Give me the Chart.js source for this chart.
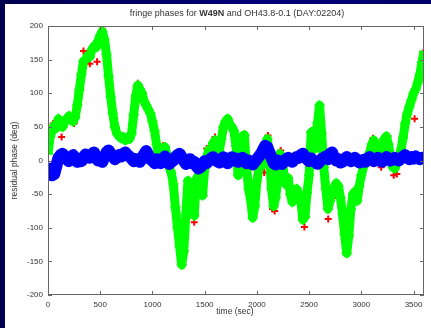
<!DOCTYPE html>
<html>
<head>
    <title>Fringe phases</title>
    <script src="https://cdn.jsdelivr.net/npm/chart.js"></script>
    <style>
        html, body { margin: 0; padding: 0; }
        body {
            width: 431px; height: 328px; overflow: hidden;
            background: linear-gradient(90deg, #00004e 0%, #000078 60%, #00006a 100%);
        }
        #panel { position: absolute; left: 5px; top: 4px; width: 426px; height: 324px; background: #fff; }
    </style>
</head>
<body>
<div id="panel"><canvas id="phaseChart" width="426" height="324"></canvas></div>
<script>
    // residual phases sampled every 20 s from 0 to 3600 s
    var sampleStep = 20;

    var greenPhase = [10, 35, 45, 52, 48, 62, 55, 50, 58, 62, 66, 60, 58, 64, 82, 105, 128, 148, 150, 156,
        154, 165, 170, 168, 178, 186, 192, 180, 158, 125, 95, 70, 50, 40, 36, 33, 35, 30, 34, 32,
        40, 68, 96, 112, 106, 100, 88, 82, 76, 70, 58, 44, 24, 6, 2, 16, 20, 8, -10, -18,
        -35, -70, -100, -128, -155, -135, -80, -30, -35, -65, -82, -28, -22, -38, -52, -12, 5, 16, 8, 26,
        30, 4, 14, 32, 50, 58, 62, 54, 50, 44, 22, -22, 8, 36, 38, -8, -42, -58, -85, -68,
        -30, -12, -8, -6, 14, 32, 8, -42, -68, -55, -28, 10, 4, -22, -36, -26, -50, -62, -54, -42,
        -50, -58, -88, -84, -48, -22, 42, 44, 18, 55, 82, 40, -10, -42, -72, -60, -45, -40, -34, -38,
        -55, -80, -110, -138, -112, -72, -50, -46, -60, -38, -22, -10, -2, 5, 12, 24, 30, 18, 4, 0,
        20, 32, 36, 24, 4, -10, -12, -4, 6, 16, 34, 55, 70, 80, 90, 100, 106, 116, 128, 146, 162];

    var bluePhase = [-5, -15, -22, -20, -8, 4, 8, 10, 4, 2, -1, 4, 8, 3, -2, 2, -1, 5, 9, 7,
        4, 9, 12, 5, 0, 3, -2, 5, 12, 15, 10, 7, 2, 5, 8, 6, 10, 12, 8, 6,
        3, -1, 2, 0, -2, 4, 9, 14, 8, 2, 0, -4, 2, -1, -4, 2, 6, 0, -5, -2,
        0, 5, 8, 10, 5, 0, -5, -3, 2, -4, -2, -8, -12, -10, -6, -1, -4, 0, 3, 5,
        1, -1, -3, 2, 5, -2, -4, 2, 5, 0, 3, -2, 0, 4, 2, -4, 0, -3, -6, -2,
        2, 6, 10, 16, 22, 20, 12, 4, -4, -6, 0, -3, -5, -2, 2, 4, 1, -2, 3, 5,
        4, 8, 10, 6, 2, -1, 3, 0, -2, -5, -2, 2, 4, 6, 2, 10, 12, 4, 0, 2,
        -3, -2, 2, 5, 3, -1, 2, 4, 0, -3, -2, 1, -2, 3, 5, 2, -1, 2, 4, 1,
        -2, 2, 5, 3, 0, 2, 4, 1, 0, 3, 6, 8, 4, 2, 5, 3, 6, 4, 2, 4, 1];

    // second baseline, mostly hidden under the green one
    var redTime = [0, 50, 80, 130, 200, 250, 340, 400, 470, 520, 570, 620, 650, 860, 910, 940, 990, 1100,
        1220, 1260, 1400, 1520, 1600, 1700, 1720, 1910, 2070, 2106, 2150, 2170, 2228, 2365, 2455,
        2683, 2746, 3111, 3190, 3254, 3310, 3340, 3430, 3510, 3590];
    var redPhase = [15, 55, 58, 35, 68, 55, 163, 144, 147, 196, 150, 62, 42, 115, 96, 85, 62, 22,
        -75, -125, -92, 18, 35, 60, 62, -40, -18, 37, -72, -75, 15, -52, -99,
        -87, -52, 33, -10, 36, -22, -20, 66, 62, 160];

    var xTicks = [0, 500, 1000, 1500, 2000, 2500, 3000, 3500];
    var yTicks = [-200, -150, -100, -50, 0, 50, 100, 150, 200];

    function toPoints(times, values) {
        return values.map(function(v, i) { return { x: times ? times[i] : i * sampleStep, y: v }; });
    }

    var textColor = '#333';
    var fontFamily = '"Liberation Sans", Arial, sans-serif';

    // keep the fat markers inside the plot box
    var clipPlugin = {
        id: 'boxClip',
        beforeDatasetsDraw: function(chart) {
            var a = chart.chartArea, ctx = chart.ctx;
            ctx.save();
            ctx.beginPath();
            ctx.rect(a.left, a.top, a.right - a.left, a.bottom - a.top);
            ctx.clip();
        },
        afterDatasetsDraw: function(chart) {
            chart.ctx.restore();
        }
    };

    // gnuplot-style box, inward ticks and titles
    var framePlugin = {
        id: 'frame',
        afterDraw: function(chart) {
            var ctx = chart.ctx, a = chart.chartArea;
            var xs = chart.scales.x, ys = chart.scales.y;
            ctx.save();
            ctx.strokeStyle = '#666';
            ctx.lineWidth = 1;
            ctx.strokeRect(a.left + 0.5, a.top + 0.5, a.right - a.left - 1, a.bottom - a.top - 1);
            ctx.beginPath();
            xTicks.forEach(function(t) {
                var px = Math.round(xs.getPixelForValue(t)) + 0.5;
                ctx.moveTo(px, a.bottom); ctx.lineTo(px, a.bottom - 4);
                ctx.moveTo(px, a.top); ctx.lineTo(px, a.top + 4);
            });
            yTicks.forEach(function(t) {
                var py = Math.round(ys.getPixelForValue(t)) + 0.5;
                ctx.moveTo(a.left, py); ctx.lineTo(a.left + 4, py);
                ctx.moveTo(a.right, py); ctx.lineTo(a.right - 4, py);
            });
            ctx.stroke();

            ctx.fillStyle = textColor;
            ctx.textBaseline = 'middle';
            // title with the source name in bold
            var parts = [['fringe phases for ', 'normal'], ['W49N', 'bold'], [' and OH43.8-0.1 (DAY:02204)', 'normal']];
            var widths = parts.map(function(p) {
                ctx.font = p[1] + ' 9px ' + fontFamily;
                return ctx.measureText(p[0]).width;
            });
            var total = widths.reduce(function(s, w) { return s + w; }, 0);
            var x = 232 - total / 2;
            ctx.textAlign = 'left';
            parts.forEach(function(p, i) {
                ctx.font = p[1] + ' 9px ' + fontFamily;
                ctx.fillText(p[0], x, 10);
                x += widths[i];
            });

            ctx.font = '8.5px ' + fontFamily;
            ctx.textAlign = 'center';
            ctx.fillText('time (sec)', (a.left + a.right) / 2 - 1, 308);
            ctx.translate(10, (a.top + a.bottom) / 2);
            ctx.rotate(-Math.PI / 2);
            ctx.fillText('residual phase (deg)', 0, 0);
            ctx.restore();
        }
    };

    function fixedTicks(values) {
        return function(scale) {
            scale.ticks = values.map(function(v) { return { value: v }; });
        };
    }

    var ctx = document.getElementById('phaseChart').getContext('2d');
    new Chart(ctx, {
        type: 'scatter',
        data: {
            datasets: [{
                label: 'blue',
                data: toPoints(null, bluePhase),
                showLine: true,
                borderColor: '#0000ff',
                backgroundColor: '#0000ff',
                borderWidth: 12,
                borderJoinStyle: 'round',
                borderCapStyle: 'butt',
                pointStyle: 'cross',
                pointRadius: 5,
                pointBorderWidth: 2,
                order: 0
            }, {
                label: 'green',
                data: toPoints(null, greenPhase),
                showLine: true,
                borderColor: '#00ff00',
                backgroundColor: '#00ff00',
                borderWidth: 9,
                borderJoinStyle: 'round',
                borderCapStyle: 'butt',
                pointStyle: 'cross',
                pointRadius: 5,
                pointBorderWidth: 2,
                order: 1
            }, {
                label: 'red',
                data: toPoints(redTime, redPhase),
                showLine: false,
                borderColor: '#ff0000',
                backgroundColor: '#ff0000',
                pointStyle: 'cross',
                pointRadius: 3.5,
                pointBorderWidth: 2,
                order: 2
            }]
        },
        options: {
            responsive: false,
            animation: false,
            layout: { padding: { top: 22, right: 5, left: 0, bottom: 0 } },
            plugins: { legend: { display: false }, tooltip: { enabled: false } },
            scales: {
                x: {
                    type: 'linear',
                    min: 0, max: 3600,
                    grid: { display: false, drawTicks: false },
                    border: { display: false },
                    afterBuildTicks: fixedTicks(xTicks),
                    ticks: {
                        autoSkip: false, maxRotation: 0, padding: 5, color: textColor,
                        font: { family: fontFamily, size: 8 },
                        callback: function(v) { return String(v); }
                    },
                    afterFit: function(scale) {
                        scale.height = 33;
                        scale.paddingLeft = 0;
                        scale.paddingRight = 0;
                    }
                },
                y: {
                    min: -200, max: 200,
                    grid: { display: false, drawTicks: false },
                    border: { display: false },
                    afterBuildTicks: fixedTicks(yTicks),
                    ticks: {
                        padding: 5, color: textColor,
                        font: { family: fontFamily, size: 8 },
                        callback: function(v) { return String(v); }
                    },
                    afterFit: function(scale) {
                        scale.width = 43;
                        scale.paddingTop = 0;
                        scale.paddingBottom = 0;
                    }
                }
            }
        },
        plugins: [clipPlugin, framePlugin]
    });
</script>
</body>
</html>
